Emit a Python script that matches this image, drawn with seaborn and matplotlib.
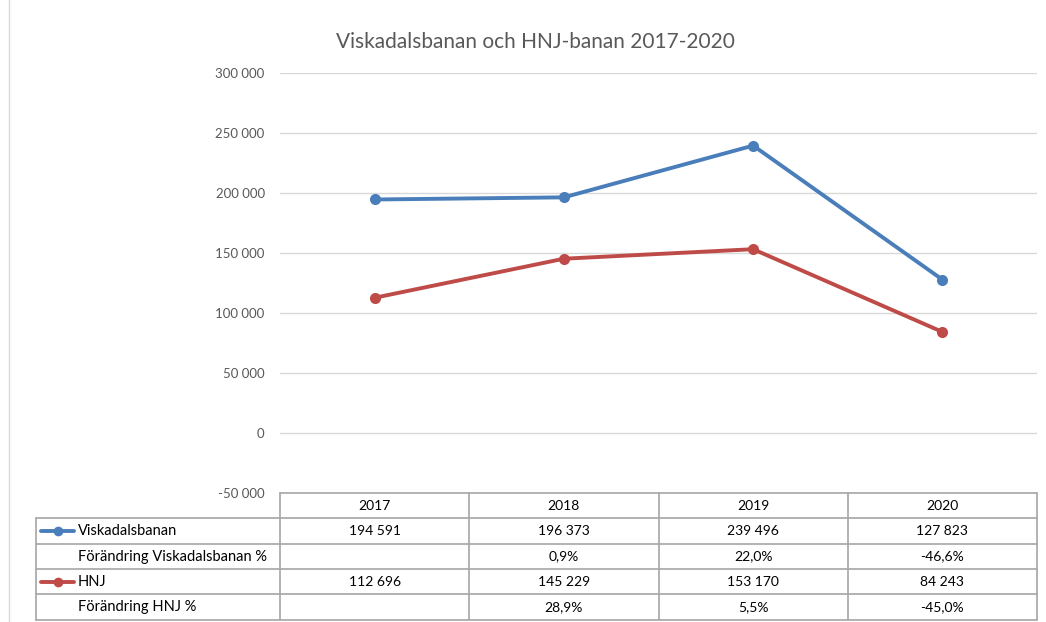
import matplotlib
matplotlib.use("Agg")
import matplotlib.pyplot as plt
import matplotlib.transforms as mtransforms
from matplotlib.lines import Line2D
import seaborn as sns
import pandas as pd

years = ["2017", "2018", "2019", "2020"]
visk = [194591, 196373, 239496, 127823]
hnj = [112696, 145229, 153170, 84243]
visk_txt = ["194 591", "196 373", "239 496", "127 823"]
visk_chg = ["", "0,9%", "22,0%", "-46,6%"]
hnj_txt = ["112 696", "145 229", "153 170", "84 243"]
hnj_chg = ["", "28,9%", "5,5%", "-45,0%"]
yticks = [-50000, 0, 50000, 100000, 150000, 200000, 250000, 300000]
ytick_labels = ["-50 000", "0", "50 000", "100 000", "150 000", "200 000", "250 000", "300 000"]
title = "Viskadalsbanan och HNJ-banan 2017-2020"
series_names = ["Viskadalsbanan", "HNJ"]
row_labels = ["Viskadalsbanan", "Förändring Viskadalsbanan %", "HNJ", "Förändring HNJ %"]

BLUE = "#4a7ebb"
RED = "#be4b48"
GRID = "#d9d9d9"
BORDER = "#a6a6a6"
TXT = "#595959"

sns.set_theme(style="white")
plt.rcParams["font.family"] = ["Lato", "DejaVu Sans"]

W, H = 1046, 622
fig = plt.figure(figsize=(W / 100, H / 100), dpi=100)
ax_l, ax_r, ax_t, ax_b = 280, 1037, 73, 493
ax = fig.add_axes([ax_l / W, 1 - ax_b / H, (ax_r - ax_l) / W, (ax_b - ax_t) / H])

df = pd.DataFrame({
    "year": years * 2,
    "value": visk + hnj,
    "series": [series_names[0]] * 4 + [series_names[1]] * 4,
})
sns.lineplot(data=df, x="year", y="value", hue="series", palette=[BLUE, RED],
             marker="o", markersize=8, markeredgewidth=0, linewidth=2.8,
             sort=False, legend=False, ax=ax)

ax.set_xlim(-0.5, 3.5)
ax.set_ylim(-50000, 300000)
ax.set_yticks(yticks)
ax.set_yticklabels(ytick_labels, color=TXT, fontsize=9.5)
ax.tick_params(axis="y", length=0, pad=11)
ax.set_xticks([])
ax.set_xlabel("")
ax.set_ylabel("")
for s in ax.spines.values():
    s.set_visible(False)
for yt in yticks[1:]:
    ax.axhline(yt, color=GRID, linewidth=1, zorder=0)

fig.text(535 / W, 1 - 42 / H, title, ha="center", va="center", fontsize=15, color=TXT)

# Data table below the axes
tr = mtransforms.blended_transform_factory(ax.transData, fig.transFigure)
figtr = fig.transFigure

def fy(py):
    return 1 - py / H

def fx(px):
    return px / W

row_edges = [493, 518, 544, 569, 594, 620]
tab_left = 36
fig.add_artist(Line2D([fx(ax_l), fx(ax_r)], [fy(row_edges[0])] * 2, color=BORDER, lw=1.2, transform=figtr))
for ry in row_edges[1:]:
    fig.add_artist(Line2D([fx(tab_left), fx(ax_r)], [fy(ry)] * 2, color=BORDER, lw=1.2, transform=figtr))
fig.add_artist(Line2D([fx(tab_left)] * 2, [fy(row_edges[1]), fy(row_edges[-1])], color=BORDER, lw=1.2, transform=figtr))
for i in range(len(years) + 1):
    xx = i - 0.5
    fig.add_artist(Line2D([xx, xx], [fy(row_edges[0]), fy(row_edges[-1])], color=BORDER, lw=1.2, transform=tr))

for i, y in enumerate(years):
    fig.text(i, fy((row_edges[0] + row_edges[1]) / 2), y, transform=tr, ha="center", va="center",
             fontsize=10, color="black")
rows = [visk_txt, visk_chg, hnj_txt, hnj_chg]
for r, vals in enumerate(rows):
    yc = fy((row_edges[r + 1] + row_edges[r + 2]) / 2)
    fig.text(fx(78), yc, row_labels[r], ha="left", va="center", fontsize=10.5, color="black")
    for i, v in enumerate(vals):
        fig.text(i, yc, v, transform=tr, ha="center", va="center", fontsize=10, color="black")

for r, col in [(0, BLUE), (2, RED)]:
    yc = fy((row_edges[r + 1] + row_edges[r + 2]) / 2)
    fig.add_artist(Line2D([fx(41), fx(74)], [yc, yc], color=col, lw=2.8, transform=figtr))
    fig.add_artist(Line2D([fx(57.5)], [yc], color=col, marker="o", markersize=7, markeredgewidth=0,
                          linestyle="none", transform=figtr))

fig.add_artist(Line2D([fx(9), fx(9)], [0, 1], color="#d9d9d9", lw=1, transform=figtr))

fig.savefig("out.png", dpi=100)
